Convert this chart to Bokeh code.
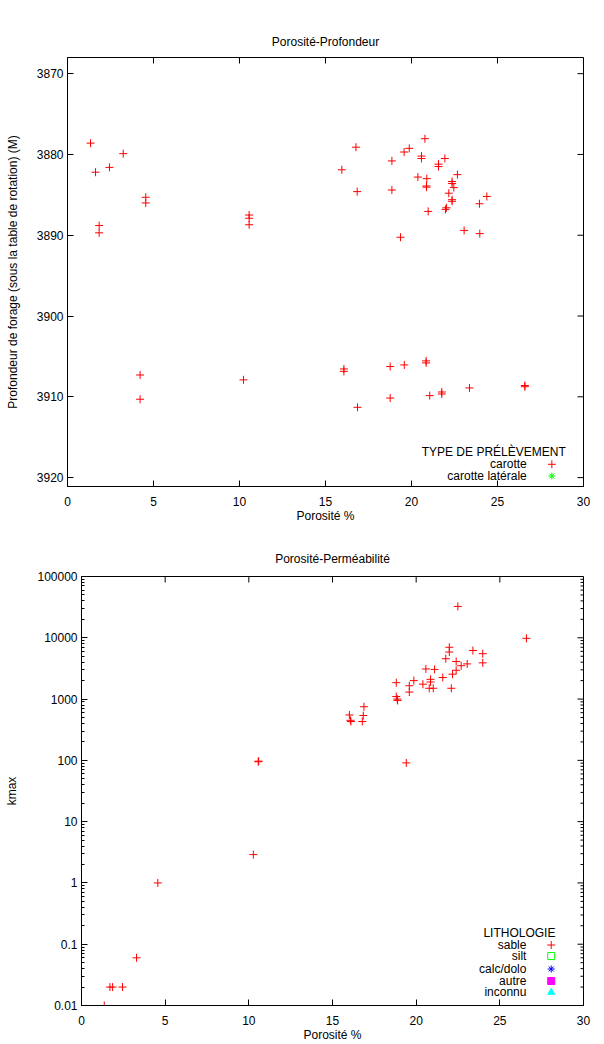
from bokeh.plotting import figure
from bokeh.models import Range1d, FixedTicker, Label
from bokeh.embed import file_html
from bokeh.resources import INLINE

FONT = "Liberation Sans"

# ---- Porosité-Profondeur data ----
porosite_prof = [1.34, 3.24, 1.63, 2.44, 4.55, 4.55, 1.84, 1.84, 10.56, 10.56, 10.56,
                 16.77, 20.78, 19.57, 19.87, 18.86, 20.58, 20.58, 21.94, 21.57, 21.57,
                 15.95, 22.67, 20.37, 20.89, 22.36, 22.36, 20.87, 20.87, 16.84, 18.86,
                 22.17, 22.46, 24.38, 23.95, 22.36, 22.36, 22.03, 21.98, 20.97, 23.06,
                 23.97, 19.36,
                 4.22, 4.22, 10.23, 16.07, 16.07, 16.86, 18.76, 19.58, 20.85, 20.85,
                 18.76, 21.06, 21.76, 21.76, 23.37, 26.59, 26.59]
profondeur = [3878.6, 3879.9, 3882.2, 3881.6, 3885.3, 3886.0, 3888.8, 3889.7, 3887.5, 3887.9, 3888.7,
              3879.1, 3878.05, 3879.7, 3879.25, 3880.8, 3880.2, 3880.5, 3880.5, 3881.2, 3881.5,
              3881.9, 3882.5, 3882.8, 3883.0, 3883.35, 3883.6, 3883.9, 3884.05, 3884.6, 3884.4,
              3884.8, 3884.1, 3885.2, 3886.1, 3885.6, 3885.8, 3886.6, 3886.8, 3887.05, 3889.4,
              3889.8, 3890.25,
              3907.3, 3910.3, 3907.9, 3906.55, 3906.85, 3911.3, 3906.25, 3906.05, 3905.55, 3905.8,
              3910.15, 3909.85, 3909.4, 3909.65, 3908.9, 3908.6, 3908.75]

# ---- Porosité-Perméabilité data ----
porosite_perm = [22.49, 26.59, 21.98, 21.98, 23.39, 23.98, 23.98, 21.77, 22.39, 23.05,
                 22.69, 22.39, 22.17, 20.58, 21.10, 21.59, 19.86, 20.86, 20.86, 18.81,
                 20.40, 19.59, 19.59, 20.78, 21.02, 22.10, 18.81, 18.87, 18.89, 16.88,
                 16.01, 16.07, 16.10, 16.78, 16.84, 10.56, 10.59, 19.41, 10.27, 4.56,
                 3.29, 1.70, 1.86, 2.45, 1.36]
kmax = [32500, 9800, 7000, 5850, 6200, 5500, 3900, 4550, 4100, 3750,
        3500, 2950, 2550, 3100, 3050, 2250, 2000, 2100, 1900, 1850,
        1750, 1650, 1300, 1500, 1500, 1500, 1100, 1000, 950, 750,
        550, 450, 430, 430, 540, 95, 97, 91, 2.9, 1,
        0.06, 0.02, 0.02, 0.02, 0.01]

poro_ticks = [0, 5, 10, 15, 20, 25, 30]
depth_ticks = [3870, 3880, 3890, 3900, 3910, 3920]
kmax_ticks = [0.01, 0.1, 1, 10, 100, 1000, 10000, 100000]
kmax_tick_labels = ["0.01", "0.1", "1", "10", "100", "1000", "10000", "100000"]

legend1_title = "TYPE DE PRÉLÈVEMENT"
legend1_labels = ["carotte", "carotte latérale"]
legend2_title = "LITHOLOGIE"
legend2_labels = ["sable", "silt", "calc/dolo", "autre", "inconnu"]

# layout plan (px)
FW1, FH1 = 516, 429
FW2, FH2 = 502, 429
TICK = 6
MINOR = 3


def style_axis(ax):
    ax.major_tick_in = TICK
    ax.major_tick_out = 0
    ax.minor_tick_in = MINOR
    ax.minor_tick_out = 0
    ax.axis_line_color = "black"
    ax.major_tick_line_color = "black"
    ax.minor_tick_line_color = "black"
    ax.major_label_text_font = FONT
    ax.major_label_text_font_size = "12px"
    ax.major_label_text_color = "black"
    ax.axis_label_text_font = FONT
    ax.axis_label_text_font_size = "12px"
    ax.axis_label_text_font_style = "normal"
    ax.axis_label_text_color = "black"


def style_fig(p, title):
    p.title.text = title
    p.title.align = "center"
    p.title.text_font = FONT
    p.title.text_font_size = "12px"
    p.title.text_font_style = "normal"
    p.title.text_color = "black"
    p.title.standoff = 18
    p.xgrid.visible = False
    p.ygrid.visible = False
    p.outline_line_color = "black"
    p.outline_line_width = 1
    p.background_fill_color = "white"
    p.border_fill_color = "white"


# ================= Figure 1 =================
x1r = Range1d(0, 30)
y1r = Range1d(3921.1, 3868.0)
p1 = figure(width=604, height=530,
            min_border_left=67, min_border_right=21, min_border_top=57, min_border_bottom=44,
            x_range=x1r, y_range=y1r,
            output_backend="svg", toolbar_location=None, tools="")
style_fig(p1, "Porosité-Profondeur")
p1.xaxis.ticker = FixedTicker(ticks=poro_ticks, minor_ticks=[])
p1.yaxis.ticker = FixedTicker(ticks=depth_ticks, minor_ticks=[])
p1.xaxis.axis_label = "Porosité %"
p1.yaxis.axis_label = "Profondeur de forage (sous la table de rotation) (M)"
for ax in p1.xaxis + p1.yaxis:
    style_axis(ax)
p1.xaxis.major_label_standoff = 10
p1.xaxis.axis_label_standoff = 0
p1.yaxis.major_label_standoff = 4
p1.yaxis.axis_label_standoff = 14

# mirrored ticks (top and right), inward like the main axes
dy1 = TICK * (y1r.start - y1r.end) / FH1
dx1 = TICK * (x1r.end - x1r.start) / FW1
p1.segment(x0=poro_ticks, x1=poro_ticks, y0=[y1r.end] * len(poro_ticks),
           y1=[y1r.end + dy1] * len(poro_ticks), line_color="black", line_width=1)
p1.segment(x0=[x1r.end] * len(depth_ticks), x1=[x1r.end - dx1] * len(depth_ticks),
           y0=depth_ticks, y1=depth_ticks, line_color="black", line_width=1)

p1.scatter(porosite_prof, profondeur, marker="cross", size=8,
           line_color="#ff0000", line_width=1)

# legend 1 (gnuplot-style: text right-aligned, sample on the right)
lx_text, lx_mark = 26.70, 28.16
p1.add_layout(Label(x=24.78, y=3916.8, text=legend1_title, text_align="center",
                    text_baseline="middle", text_font=FONT, text_font_size="12px",
                    text_color="black"))
ys1 = [3918.35, 3919.8]
for lab, yy in zip(legend1_labels, ys1):
    p1.add_layout(Label(x=lx_text, y=yy, text=lab, text_align="right",
                        text_baseline="middle", text_font=FONT, text_font_size="12px",
                        text_color="black"))
p1.scatter([lx_mark], [ys1[0]], marker="cross", size=8, line_color="#ff0000", line_width=1)
p1.scatter([lx_mark], [ys1[1]], marker="asterisk", size=7, line_color="#00ff00", line_width=1)

# ================= Figure 2 =================
x2r = Range1d(0, 30)
y2r = Range1d(0.01, 100000)
p2 = figure(width=604, height=514,
            min_border_left=81, min_border_right=21, min_border_top=46, min_border_bottom=39,
            x_range=x2r, y_range=y2r, y_axis_type="log",
            output_backend="svg", toolbar_location=None, tools="")
style_fig(p2, "Porosité-Perméabilité")
p2.title.standoff = 21
minor_log = [m * 10.0 ** e for e in range(-2, 5) for m in range(2, 10)]
p2.xaxis.ticker = FixedTicker(ticks=poro_ticks, minor_ticks=[])
p2.yaxis.ticker = FixedTicker(ticks=kmax_ticks, minor_ticks=minor_log)
p2.yaxis.major_label_overrides = {t: s for t, s in zip(kmax_ticks, kmax_tick_labels)}
p2.xaxis.axis_label = "Porosité %"
p2.yaxis.axis_label = "kmax"
for ax in p2.xaxis + p2.yaxis:
    style_axis(ax)
p2.xaxis.major_label_standoff = 10
p2.xaxis.axis_label_standoff = 0
p2.yaxis.major_label_standoff = 4
p2.yaxis.axis_label_standoff = 15

decades = 7.0  # log10(1e5 / 1e-2)
ytop_in = y2r.end / 10 ** (TICK * decades / FH2)
dx2 = TICK * (x2r.end - x2r.start) / FW2
dx2m = MINOR * (x2r.end - x2r.start) / FW2
p2.segment(x0=poro_ticks, x1=poro_ticks, y0=[y2r.end] * len(poro_ticks),
           y1=[ytop_in] * len(poro_ticks), line_color="black", line_width=1)
p2.segment(x0=[x2r.end] * len(kmax_ticks), x1=[x2r.end - dx2] * len(kmax_ticks),
           y0=kmax_ticks, y1=kmax_ticks, line_color="black", line_width=1)
p2.segment(x0=[x2r.end] * len(minor_log), x1=[x2r.end - dx2m] * len(minor_log),
           y0=minor_log, y1=minor_log, line_color="black", line_width=1)

p2.scatter(porosite_perm, kmax, marker="cross", size=8,
           line_color="#ff0000", line_width=1)

lx2_text, lx2_mark = 26.59, 28.07
p2.add_layout(Label(x=26.17, y=0.154, text=legend2_title, text_align="center",
                    text_baseline="middle", text_font=FONT, text_font_size="12px",
                    text_color="black"))
ys2 = [0.097, 0.0641, 0.0394, 0.0251, 0.0164]
for lab, yy in zip(legend2_labels, ys2):
    p2.add_layout(Label(x=lx2_text, y=yy, text=lab, text_align="right",
                        text_baseline="middle", text_font=FONT, text_font_size="12px",
                        text_color="black"))
p2.scatter([lx2_mark], [ys2[0]], marker="cross", size=8, line_color="#ff0000", line_width=1)
p2.scatter([lx2_mark], [ys2[1]], marker="square", size=7, line_color="#00ff00",
           fill_color=None, line_width=1)
p2.scatter([lx2_mark], [ys2[2]], marker="asterisk", size=7, line_color="#0000ff", line_width=1)
p2.scatter([lx2_mark], [ys2[3]], marker="square", size=7, line_color="#ff00ff",
           fill_color="#ff00ff")
p2.scatter([lx2_mark], [ys2[4]], marker="triangle", size=7, line_color="#00ffff",
           fill_color="#00ffff")

# two independent roots, stacked vertically (no cross-plot frame alignment)
open("out.html", "w").write(file_html([p1, p2], INLINE))
